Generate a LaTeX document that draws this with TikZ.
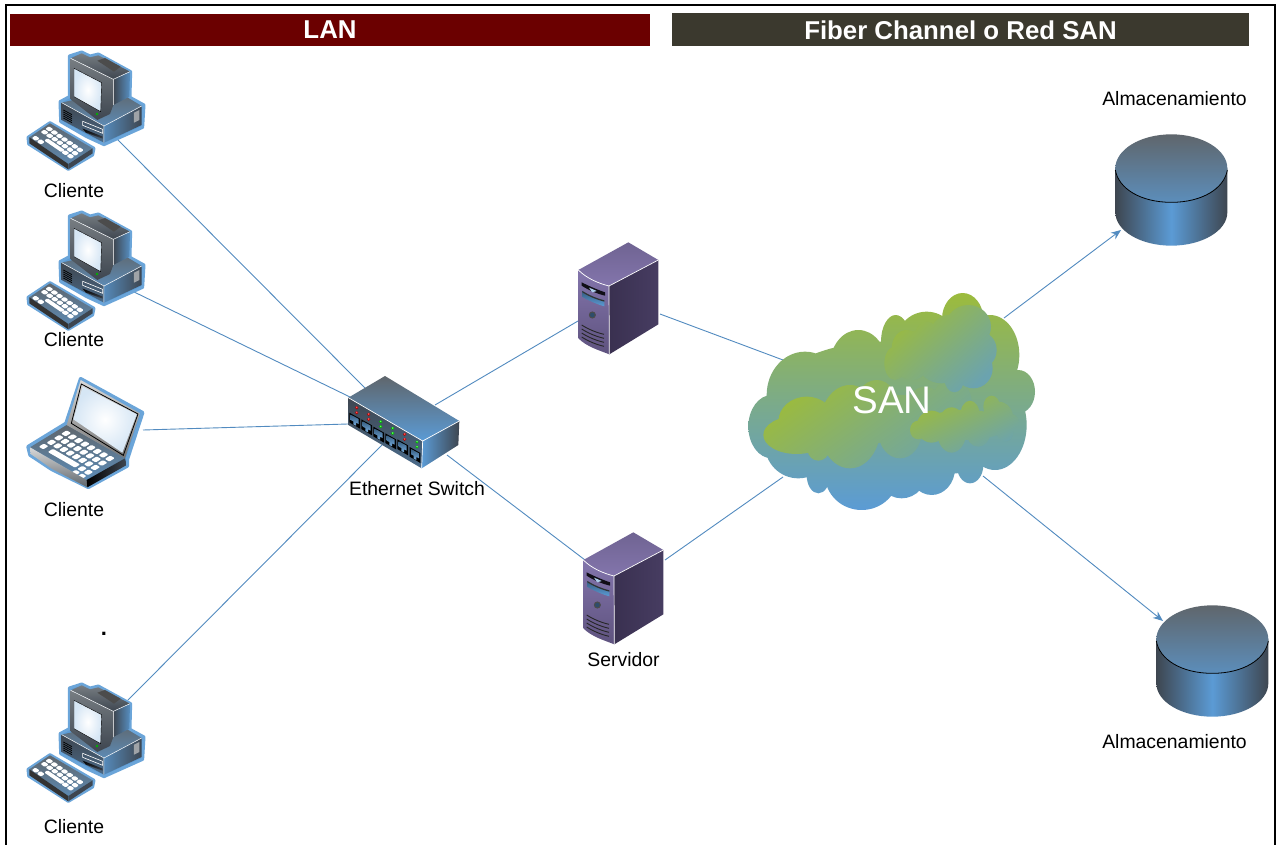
\documentclass[tikz,border=0pt]{standalone}
\usepackage{fontspec}
\setmainfont{Liberation Sans}
\usetikzlibrary{arrows.meta}
\definecolor{hl}{HTML}{5B9BD5}
\definecolor{dk}{HTML}{3E4650}
\definecolor{gy}{HTML}{5F666C}
\definecolor{purT}{HTML}{8375AC}
\definecolor{purB}{HTML}{403659}
\definecolor{gr}{HTML}{9CBB3C}
\definecolor{lanbar}{HTML}{6B0000}
\definecolor{sanbar}{HTML}{3B392E}
\newcommand{\isokey}[8]{%
  \pgfmathsetmacro\cxa{#1+\ku*#3+\kv*#5}\pgfmathsetmacro\cya{#2+\ku*#4+\kv*#6}%
  \pgfmathsetmacro\dax{#7*#3}\pgfmathsetmacro\day{#7*#4}\pgfmathsetmacro\dbx{#8*#5}\pgfmathsetmacro\dby{#8*#6}%
  \fill[white,rounded corners=1pt] (\cxa-\dax-\dbx,\cya-\day-\dby) -- (\cxa+\dax-\dbx,\cya+\day-\dby) -- (\cxa+\dax+\dbx,\cya+\day+\dby) -- (\cxa-\dax+\dbx,\cya-\day+\dby) -- cycle;}
\tikzset{
 conn/.style={draw=hl!90!black,line width=0.9pt},
 arrowconn/.style={conn,-{Stealth[length=10pt,width=8pt]}},
 lbl/.style={inner sep=0pt,font=\fontsize{19.4}{22}\selectfont,text=black},
 banner/.style={inner sep=0pt,text=white,font=\fontsize{25.8}{28}\selectfont\bfseries},
 pics/desktop/.style={code={
  \begin{scope}[scale=1/3]
   \draw[hl!90!white,fill=hl,line width=3pt,line join=round] (178,48)--(215,36)--(240,48)--(265,42)--(362,95)--(360,172)--(402,195)--(398,262)--(282,314)--(230,290)--(152,245)--(150,185)--(178,170)--cycle;
   \draw[hl!90!white,fill=hl,line width=3pt,line join=round] (54,292)--(120,248)--(252,325)--(248,345)--(175,388)--(56,312)--cycle;
   \shade[top color=gy,bottom color=hl!70!gy] (155,188)--(315,150)--(395,198)--(282,260)--cycle;
   \shade[top color=dk,bottom color=hl!40!dk] (155,188)--(282,258)--(282,308)--(155,240)--cycle;
   \shade[left color=hl!80!dk,right color=dk] (282,258)--(395,198)--(395,255)--(282,308)--cycle;
   \draw[white,line width=.5pt] (155,188)--(282,258)--(395,198) (282,258)--(282,308);
   \fill[gy!60!white] (372,218)--(388,210)--(388,240)--(372,248)--cycle;
   \foreach \i in {0,6,12,18,24} \draw[black,line width=.7pt] (160,210+\i)--(186,224+\i);
   \shade[top color=black,bottom color=dk] (218,266)--(278,290)--(278,296)--(228,278)--cycle;
   \draw[white,line width=.6pt] (218,256)--(278,280)--(278,268)--(218,244)--cycle;
   \shade[top color=gy!85!white,bottom color=dk] (182,55)--(215,40)--(240,52)--(265,46)--(360,95)--(310,118)--cycle;
   \fill[black!70] (262,62)--(285,54)--(332,80)--(312,95)--cycle;
   \shade[left color=dk,right color=hl!85!dk] (310,118)--(360,95)--(358,170)--(310,195)--cycle;
   \shade[top color=gy!85!white,bottom color=dk] (182,55)--(310,118)--(310,195)--(300,222)--(262,240)--(182,178)--cycle;
   \draw[white,line width=.5pt] (182,55)--(310,118)--(360,95) (310,118)--(310,195);
   \shade[inner color=white,outer color=hl!25!white,draw=black] (192,85)--(275,128)--(272,215)--(192,170)--cycle;
   \fill[green!70!black] (261,222) circle[radius=4];
   \shade[top color=gy,bottom color=hl!65!gy] (58,292)--(120,250)--(248,325)--(175,372)--cycle;
   \fill[black!80] (58,292)--(175,372)--(175,388)--(58,310)--cycle;
   \fill[dk] (175,372)--(248,325)--(248,340)--(175,388)--cycle;
   \foreach \ku in {.1,.23,.36,.49,.62,.75,.88} {\foreach \kv in {.55,.78} {\isokey{58}{292}{117}{80}{62}{-42}{.055}{.09}}}
   \foreach \ku in {.1,.23} {\def\kv{.12}\isokey{58}{292}{117}{80}{62}{-42}{.055}{.09}}
   \foreach \ku in {.75,.88} {\def\kv{.33}\isokey{58}{292}{117}{80}{62}{-42}{.055}{.09}}
   \def\ku{.47}\def\kv{.33}\isokey{58}{292}{117}{80}{62}{-42}{.22}{.08}
  \end{scope}}},
 pics/laptop/.style={code={
  \begin{scope}[scale=1/3]
   \draw[hl!90!white,fill=hl,line width=3.5pt,line join=round] (212,26)--(398,128)--(352,268)--(352,288)--(235,352)--(125,298)--(60,255)--(54,230)--(168,160)--cycle;
   \shade[top color=gy,bottom color=hl!70!gy] (60,232)--(170,165)--(345,265)--(230,330)--cycle;
   \foreach \ku in {.12,.23,.34,.45,.56,.67,.78,.89} {\foreach \kv in {.4,.6,.8} {\isokey{60}{232}{170}{98}{110}{-67}{.04}{.075}}}
   \foreach \ku in {.79,.9} {\foreach \kv in {.2,.02} {\isokey{60}{232}{170}{98}{110}{-67}{.04}{.07}}}
   \def\ku{.11}\def\kv{.2}\isokey{60}{232}{170}{98}{110}{-67}{.04}{.07}
   \def\ku{.47}\def\kv{.2}\isokey{60}{232}{170}{98}{110}{-67}{.24}{.07}
   \shade[top color=black!15,bottom color=gy] (60,232)--(230,330)--(232,352)--(125,296)--(62,252)--cycle;
   \shade[left color=black,right color=dk] (230,330)--(345,265)--(350,285)--(232,352)--cycle;
   \shade[top color=black!15,bottom color=black!55] (212,30)--(390,130)--(345,265)--(170,165)--cycle;
   \draw[black,line width=.8pt] (214,42)--(384,132)--(340,256)--(184,160)--cycle;
   \shade[inner color=white,outer color=hl!25!white] (218,50)--(380,133)--(337,248)--(190,148)--cycle;
  \end{scope}}},
 pics/netswitch/.style={code={
  \begin{scope}[scale=1/3]
   \shade[top color=gy,bottom color=hl] (25,98)--(135,33)--(358,168)--(248,228)--cycle;
   \shade[top color=dk,bottom color=hl!45!dk] (25,98)--(248,228)--(245,310)--(25,180)--cycle;
   \shade[left color=hl,right color=dk] (248,228)--(358,168)--(355,240)--(245,310)--cycle;
   \draw[white,line width=.7pt] (25,98)--(248,228)--(358,168) (248,228)--(245,310);
   \foreach \p/\q/\c in {44/165/red,80/185/red,116/207/green,152/227/green,188/245/red,225/268/green}{
     \fill[black] (\p-16,\q-22)--(\p+16,\q-4)--(\p+16,\q+26)--(\p-16,\q+7)--cycle;
     \shade[top color=hl!60!black,bottom color=hl!85!white] (\p-12,\q-16)--(\p+12,\q-3)--(\p+12,\q+12)--(\p+4,\q+8)--(\p+4,\q+17)--(\p-4,\q+13)--(\p-4,\q+4)--(\p-12,\q)--cycle;
     \fill[\c!70!black] (\p+6,\q-37) circle[radius=5];
     \fill[\c!70!black] (\p+6,\q-22) circle[radius=5];
     \fill[\c!60!white] (\p+6,\q-38) circle[radius=2.5];
     \fill[\c!60!white] (\p+6,\q-23) circle[radius=2.5];
   }
  \end{scope}}},
 pics/server/.style={code={
  \begin{scope}[scale=1/3]
   \shade[top color=purT!85!black,bottom color=purT] (40,105)--(190,22)--(280,75)--(132,153) .. controls (100,145) and (65,130) .. (40,105)--cycle;
   \shade[left color=purB!90!black,right color=purB!90!purT] (132,153)--(280,75)--(280,268)--(133,358)--cycle;
   \shade[top color=purT,bottom color=purB!55!purT] (40,105) .. controls (65,130) and (100,145) .. (132,153)--(133,358) .. controls (100,345) and (65,335) .. (40,310)--cycle;
   \draw[white,line width=.7pt] (40,105) .. controls (65,130) and (100,145) .. (132,153)--(280,75) (132,153)--(133,358);
   \fill[black!75!purB] (50,142) .. controls (75,155) and (100,165) .. (120,172)--(120,182) .. controls (95,176) and (70,165) .. (50,152)--cycle;
   \fill[hl!50!white] (72,158)--(82,162)--(95,168)--(82,172)--cycle;
   \shade[top color=hl!60!black,bottom color=hl] (52,168) .. controls (75,182) and (95,190) .. (118,196)--(118,214) .. controls (95,208) and (75,198) .. (52,186)--cycle;
   \fill[black!80] (52,168) .. controls (75,182) and (95,190) .. (118,196)--(118,200) .. controls (95,194) and (75,186) .. (52,172)--cycle;
   \draw[black!70,fill=hl!50!black,line width=1pt] (82,240) circle[radius=9];
   \foreach \i in {0,12,24,36} \draw[black!85,line width=.9pt] (50,270+\i) .. controls (70,283+\i) and (95,293+\i) .. (117,298+\i);
  \end{scope}}},
 pics/storagecyl/.style={code={
  \begin{scope}[scale=1/3]
   \shade[left color=dk,right color=dk,middle color=hl] (46,130)--(46,262) .. controls (46,317) and (121,362) .. (214,362) .. controls (307,362) and (382,317) .. (382,262)--(382,130)--cycle;
   \shade[top color=gy,bottom color=hl!75!gy] (46,130) .. controls (46,74) and (121,28) .. (214,28) .. controls (307,28) and (382,74) .. (382,130) .. controls (382,186) and (307,232) .. (214,232) .. controls (121,232) and (46,186) .. (46,130)--cycle;
   \draw[black,line width=.8pt] (46,135) .. controls (55,190) and (121,232) .. (214,232) .. controls (307,232) and (373,190) .. (382,135);
  \end{scope}}},
}
\begin{document}
\begin{tikzpicture}[x=1pt,y=-1pt]
\useasboundingbox (0,0) rectangle (1277,845);
\fill[white] (0,0) rectangle (1277,845);
\draw[black,line width=2pt] (6,845)--(6,5)--(1275,5)--(1275,845);
\fill[lanbar] (10,14) rectangle (650,46);
\fill[sanbar] (672,13) rectangle (1249,46);
\node[banner] (lantxt) at (330,30) {LAN};
\node[banner] (santxt) at (960.5,30) {Fiber Channel o Red SAN};
\coordinate (c1) at (115,137);
\coordinate (c2) at (130,290);
\coordinate (c3) at (143,430);
\coordinate (c4) at (128,700);
\coordinate (swa) at (366,389);
\coordinate (swb) at (350,397);
\coordinate (swc) at (348,424);
\coordinate (swd) at (382,445);
\coordinate (swe) at (435,405);
\coordinate (swf) at (447,455);
\coordinate (srv1l) at (578,321);
\coordinate (srv1r) at (660,314);
\coordinate (srv2l) at (585,560);
\coordinate (srv2r) at (665,560);
\coordinate (sanul) at (783,360);
\coordinate (sanll) at (783,477);
\coordinate (sanur) at (1004,318);
\coordinate (sanlr) at (983,476);
\coordinate (st1) at (1121,230);
\coordinate (st2) at (1163,621);
\draw[conn] (c1)--(swa);
\draw[conn] (c2)--(swb);
\draw[conn] (c3)--(swc);
\draw[conn] (c4)--(swd);
\draw[conn] (swe)--(srv1l);
\draw[conn] (swf)--(srv2l);
\draw[conn] (srv1r)--(sanul);
\draw[conn] (srv2r)--(sanll);
\draw[arrowconn] (sanur)--(st1);
\draw[arrowconn] (sanlr)--(st2);
\pic at (10,40) {desktop};
\pic at (10,200) {desktop};
\pic at (10,370) {laptop};
\pic at (10,672) {desktop};
\pic at (340,365) {netswitch};
\pic at (565,235) {server};
\pic at (570,525) {server};
\pic at (1100,125) {storagecyl};
\pic at (1141,596) {storagecyl};
\begin{scope}[shift={(735,285)},scale=1/3]
 \shade[top color=gr,bottom color=hl]
  (210,330) ellipse[x radius=115,y radius=130]
  (370,240) ellipse[x radius=85,y radius=105]
  (482,170) ellipse[x radius=44,y radius=80]
  (575,180) ellipse[x radius=95,y radius=100]
  (683,102) ellipse[x radius=62,y radius=78]
  (765,210) ellipse[x radius=88,y radius=120]
  (850,320) ellipse[x radius=50,y radius=65]
  (780,420) ellipse[x radius=95,y radius=135]
  (110,425) ellipse[x radius=70,y radius=95]
  (190,480) ellipse[x radius=100,y radius=100]
  (250,570) ellipse[x radius=35,y radius=55]
  (380,570) ellipse[x radius=110,y radius=105]
  (500,550) ellipse[x radius=80,y radius=90]
  (590,550) ellipse[x radius=70,y radius=80]
  (705,540) ellipse[x radius=40,y radius=55]
  (450,350) ellipse[x radius=350,y radius=180]
  (450,450) ellipse[x radius=320,y radius=125]
  (660,480) ellipse[x radius=120,y radius=85];
 \shade[left color=gr,right color=hl!70!gr,shading angle=35]
  (185,450) ellipse[x radius=100,y radius=57]
  (215,410) ellipse[x radius=85,y radius=75]
  (345,425) ellipse[x radius=92,y radius=125]
  (425,380) ellipse[x radius=70,y radius=95]
  (250,495) ellipse[x radius=32,y radius=32]
  (495,440) ellipse[x radius=65,y radius=80]
  (570,370) ellipse[x radius=55,y radius=65]
  (650,350) ellipse[x radius=60,y radius=65]
  (290,450) ellipse[x radius=150,y radius=60]
  (500,400) ellipse[x radius=170,y radius=70];
 \shade[left color=gr,right color=hl!75!gr,shading angle=40]
  (515,190) ellipse[x radius=45,y radius=55]
  (575,165) ellipse[x radius=38,y radius=55]
  (480,235) ellipse[x radius=32,y radius=50]
  (640,170) ellipse[x radius=60,y radius=80]
  (700,125) ellipse[x radius=68,y radius=65]
  (735,195) ellipse[x radius=50,y radius=55]
  (715,250) ellipse[x radius=58,y radius=60]
  (658,280) ellipse[x radius=30,y radius=42]
  (620,235) ellipse[x radius=70,y radius=60]
  (530,235) ellipse[x radius=50,y radius=50]
  (625,200) ellipse[x radius=155,y radius=75];
 \shade[left color=gr,right color=hl!75!gr,shading angle=25]
  (590,425) ellipse[x radius=45,y radius=48]
  (550,435) ellipse[x radius=25,y radius=28]
  (650,435) ellipse[x radius=45,y radius=68]
  (705,395) ellipse[x radius=30,y radius=48]
  (770,365) ellipse[x radius=25,y radius=33]
  (730,445) ellipse[x radius=35,y radius=40]
  (790,400) ellipse[x radius=45,y radius=50]
  (820,410) ellipse[x radius=32,y radius=25]
  (810,440) ellipse[x radius=25,y radius=30]
  (690,420) ellipse[x radius=130,y radius=45];
\end{scope}
\node[inner sep=0pt,text=white,font=\fontsize{38.5}{40}\selectfont] (santext) at (892,400) {SAN};
\node[lbl] (l1) at (74,191) {Cliente};
\node[lbl] (l2) at (74,340) {Cliente};
\node[lbl] (l3) at (74,510) {Cliente};
\node[lbl] (l4) at (74,827) {Cliente};
\node[lbl] (l5) at (417,489) {Ethernet Switch};
\node[lbl] (l6) at (623.5,660) {Servidor};
\node[lbl] (l7) at (1174.5,99) {Almacenamiento};
\node[lbl] (l8) at (1174.5,742) {Almacenamiento};
\node[lbl,font=\fontsize{22}{24}\selectfont\bfseries] (dot) at (104,634) {.};
\end{tikzpicture}
\end{document}
